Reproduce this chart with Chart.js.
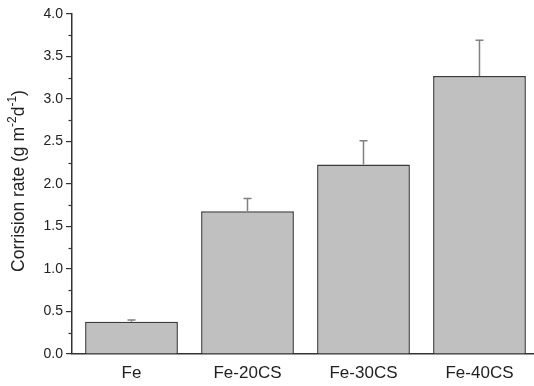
<!DOCTYPE html>
<html lang="en">
<head>
<meta charset="UTF-8">
<title>Corrision rate</title>
<script src="https://cdn.jsdelivr.net/npm/chart.js@4.4.1/dist/chart.umd.min.js"></script>
<style>
  html, body { margin: 0; padding: 0; background: #fff; }
  #wrap { width: 534px; height: 386px; }
</style>
</head>
<body>
<div id="wrap"><canvas id="chart" width="534" height="386"></canvas></div>
<script>
// data
const categories = ['Fe', 'Fe-20CS', 'Fe-30CS', 'Fe-40CS'];
const rates = [0.38, 1.68, 2.23, 3.27];
const errors = [0.02, 0.15, 0.28, 0.42];
const yTicks = [0, 0.5, 1, 1.5, 2, 2.5, 3, 3.5, 4];

const FONT = '"Liberation Sans", Arial, sans-serif';

// minor ticks on the y axis and the rotated axis title with superscripts
const extras = {
  id: 'extras',
  afterDraw(chart) {
    const ctx = chart.ctx;
    const y = chart.scales.y;
    const x0 = y.right;
    ctx.save();
    ctx.strokeStyle = '#333';
    ctx.lineWidth = 1.2;
    for (let v = 0.25; v < 4; v += 0.5) {
      const py = Math.round(y.getPixelForValue(v)) + 0.5;
      ctx.beginPath();
      ctx.moveTo(x0 - 3.5, py);
      ctx.lineTo(x0, py);
      ctx.stroke();
    }
    ctx.restore();

    // y title
    const parts = [
      ['Corrision rate (g m', 0],
      ['-2', 1],
      ['d', 0],
      ['-1', 1],
      [')', 0]
    ];
    const big = '17.5px ' + FONT, small = '12px ' + FONT;
    ctx.save();
    let total = 0;
    parts.forEach(p => { ctx.font = p[1] ? small : big; total += ctx.measureText(p[0]).width; });
    const cy = 181;
    ctx.translate(19, cy);
    ctx.rotate(-Math.PI / 2);
    ctx.fillStyle = '#222';
    ctx.textBaseline = 'middle';
    let px = -total / 2;
    parts.forEach(p => {
      ctx.font = p[1] ? small : big;
      ctx.fillText(p[0], px, p[1] ? -6 : 0);
      px += ctx.measureText(p[0]).width;
    });
    ctx.restore();
  }
};

// upward error bars
const errorBars = {
  id: 'errorBars',
  afterDatasetsDraw(chart) {
    const ctx = chart.ctx;
    const xs = chart.scales.x, ys = chart.scales.y;
    ctx.save();
    ctx.strokeStyle = '#808080';
    ctx.lineWidth = 1.5;
    rates.forEach((v, i) => {
      const px = xs.getPixelForValue(i + 1);
      const top = ys.getPixelForValue(v);
      const hi = ys.getPixelForValue(v + errors[i]);
      ctx.beginPath();
      ctx.moveTo(px, top);
      ctx.lineTo(px, hi);
      ctx.moveTo(px - 4, hi);
      ctx.lineTo(px + 4, hi);
      ctx.stroke();
    });
    ctx.restore();
  }
};

new Chart(document.getElementById('chart'), {
  type: 'bar',
  data: {
    datasets: [{
      data: rates.map((v, i) => ({ x: i + 1, y: v })),
      backgroundColor: '#c0c0c0',
      borderColor: '#3a3a3a',
      borderWidth: 1.5,
      barPercentage: 0.8,
      categoryPercentage: 1.0
    }]
  },
  options: {
    responsive: false,
    animation: false,
    layout: { padding: { top: 14, left: 0, right: 0, bottom: 0 } },
    plugins: { legend: { display: false }, tooltip: { enabled: false } },
    scales: {
      x: {
        type: 'linear',
        offset: false,
        min: 0.487,
        max: 4.47,
        afterBuildTicks: s => { s.ticks = categories.map((c, i) => ({ value: i + 1 })); },
        afterFit: s => { s.height = 32; },
        grid: { display: false, drawTicks: false, offset: false },
        border: { display: true, color: '#333', width: 1.5 },
        ticks: {
          padding: 9,
          font: { family: FONT, size: 17 },
          color: '#222',
          callback: v => categories[v - 1]
        }
      },
      y: {
        min: 0,
        max: 4,
        afterBuildTicks: s => { s.ticks = yTicks.map(v => ({ value: v })); },
        afterFit: s => { s.width = 72; },
        grid: { drawOnChartArea: false, drawTicks: true, tickLength: 6, color: '#333', lineWidth: 1.2 },
        border: { display: true, color: '#333', width: 1.5 },
        ticks: {
          padding: 3,
          font: { family: FONT, size: 14 },
          color: '#222',
          callback: v => v.toFixed(1)
        }
      }
    }
  },
  plugins: [errorBars, extras]
});
</script>
</body>
</html>
